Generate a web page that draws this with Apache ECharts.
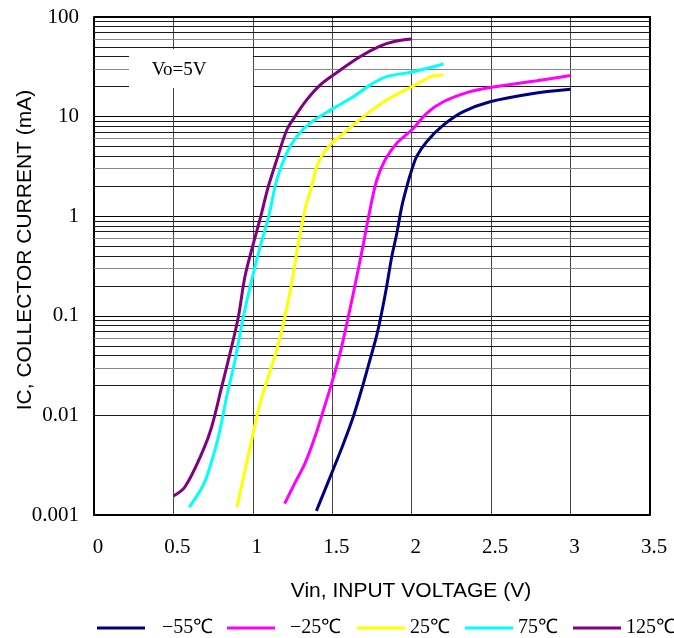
<!DOCTYPE html>
<html>
<head>
<meta charset="utf-8">
<script src="https://cdn.jsdelivr.net/npm/echarts@6/dist/echarts.min.js"></script>
<style>html,body{margin:0;padding:0;background:#fff}#c{width:674px;height:638px}</style>
</head>
<body>
<div id="c"></div>
<script>
// Data (Vin in V, Ic in mA)
var seriesNames = ['−55℃', '−25℃', '25℃', '75℃', '125℃'];
var seriesColors = ['#000080', '#ff00ff', '#ffff00', '#00ffff', '#800080'];

var tm55 = [[1.40,0.0011],[1.507,0.0029],[1.57,0.0052],[1.632,0.0097],[1.696,0.021],[1.737,0.036],[1.78,0.064],[1.811,0.108],[1.842,0.196],[1.874,0.39],[1.906,0.67],[1.937,1.24],[1.969,1.98],[2.0,2.91],[2.031,3.97],[2.094,5.6],[2.199,8.2],[2.325,11.2],[2.493,14.1],[2.745,16.9],[3.0,18.8]];
var tm25 = [[1.20,0.0013],[1.265,0.0021],[1.328,0.0033],[1.391,0.0061],[1.444,0.0113],[1.496,0.021],[1.549,0.042],[1.601,0.098],[1.654,0.247],[1.696,0.53],[1.737,1.15],[1.78,2.31],[1.832,3.66],[1.906,5.4],[2.01,7.6],[2.094,10.8],[2.199,14.1],[2.367,17.8],[2.503,19.7],[2.787,22.9],[3.0,25.8]];
var t25 = [[0.90,0.0012],[0.95,0.0028],[0.993,0.0057],[1.045,0.0132],[1.097,0.0245],[1.15,0.0454],[1.202,0.098],[1.244,0.21],[1.286,0.53],[1.33,1.2],[1.37,1.98],[1.402,3.14],[1.444,4.29],[1.507,5.6],[1.57,6.8],[1.696,10],[1.842,14.7],[2.01,20.3],[2.136,25.6],[2.2,26.2]];
var t75 = [[0.60,0.0012],[0.688,0.002],[0.73,0.00305],[0.783,0.0061],[0.835,0.0154],[0.888,0.036],[0.94,0.098],[0.993,0.229],[1.045,0.49],[1.1,1.0],[1.15,2.3],[1.213,4.3],[1.276,6.3],[1.36,8.6],[1.507,12.1],[1.632,15.8],[1.737,20.7],[1.842,25.2],[2.01,28.2],[2.2,33.7]];
var t125 = [[0.50,0.00155],[0.573,0.00192],[0.688,0.0045],[0.741,0.0077],[0.804,0.0194],[0.856,0.042],[0.909,0.098],[0.95,0.247],[1.003,0.53],[1.05,1.0],[1.097,1.98],[1.15,3.66],[1.213,7.3],[1.265,10],[1.339,14.7],[1.423,20.7],[1.507,26.2],[1.674,39.9],[1.80,51],[1.884,56.5],[2.0,60]];

var xTicks = [0, 0.5, 1, 1.5, 2, 2.5, 3, 3.5];
var yDecades = [0.001, 0.01, 0.1, 1, 10];
var minorMultipliers = [2, 3, 4, 5, 6, 7, 8, 9];

var allData = [tm55, tm25, t25, t75, t125];

// legend layout (one legend per item, to match the original spacing)
var legendLeft = [97, 227, 357, 465, 573];
var legendTextPad = [12, 10, 0, 0, 0];

var minorLines = [];
yDecades.forEach(function (d) {
  minorMultipliers.forEach(function (m) {
    var gray = (m === 3 || m === 6);
    minorLines.push({
      yAxis: +(d * m).toPrecision(3),
      lineStyle: { color: gray ? '#888' : '#1a1a1a', width: 1, type: 'solid' }
    });
  });
});

var series = allData.map(function (d, i) {
  return {
    name: seriesNames[i],
    type: 'line',
    data: d,
    smooth: 0.35,
    showSymbol: false,
    symbol: 'none',
    lineStyle: { color: seriesColors[i], width: 3 },
    itemStyle: { color: seriesColors[i] },
    z: 5
  };
});
series.unshift({
  name: 'grid',
  type: 'line',
  data: [],
  silent: true,
  z: 1,
  markLine: {
    silent: true,
    symbol: ['none', 'none'],
    label: { show: false },
    animation: false,
    data: minorLines
  }
});

var legends = seriesNames.map(function (n, i) {
  return {
    data: [n],
    left: legendLeft[i], top: 618,
    padding: 0,
    itemWidth: 48, itemHeight: 3,
    icon: 'rect',
    selectedMode: false,
    textStyle: { fontFamily: 'Liberation Serif', fontSize: 20, color: '#000', padding: [0, 0, 0, legendTextPad[i]] }
  };
});

var chart = echarts.init(document.getElementById('c'));
chart.setOption({
  animation: false,
  backgroundColor: '#fff',
  grid: { left: 94, right: 24, top: 17, bottom: 123, containLabel: false, outerBoundsMode: 'none' },
  xAxis: {
    type: 'value',
    min: 0, max: 3.5, interval: 0.5,
    name: 'Vin, INPUT VOLTAGE (V)',
    nameLocation: 'middle',
    nameGap: 66,
    nameMoveOverlap: false,
    nameTextStyle: { fontFamily: 'Liberation Sans', fontSize: 21, color: '#000', padding: [0, 0, 0, 78] },
    axisLine: { show: true, lineStyle: { color: '#000', width: 2 } },
    axisTick: { show: false },
    axisLabel: { fontFamily: 'Liberation Serif', fontSize: 21, color: '#000', margin: 22, padding: [0, 0, 0, 8],
      formatter: function (v) { return String(v); } },
    splitLine: { show: true, lineStyle: { color: '#444', width: 1 } }
  },
  yAxis: {
    type: 'log',
    logBase: 10,
    min: 0.001, max: 100,
    name: 'IC, COLLECTOR CURRENT (mA)',
    nameLocation: 'middle',
    nameGap: 58,
    nameRotate: 90,
    nameMoveOverlap: false,
    nameTextStyle: { fontFamily: 'Liberation Sans', fontSize: 21, color: '#000', padding: [0, 0, 0, 32] },
    axisLine: { show: true, lineStyle: { color: '#000', width: 2 } },
    axisTick: { show: false },
    axisLabel: { fontFamily: 'Liberation Serif', fontSize: 21, color: '#000', margin: 15,
      formatter: function (v) { return String(+v.toPrecision(3)); } },
    splitLine: { show: true, lineStyle: { color: '#000', width: 1 } }
  },
  legend: legends,
  graphic: [
    { type: 'rect', z: 50, shape: { x: 129, y: 49, width: 124, height: 39 }, style: { fill: '#fff' } },
    { type: 'text', z: 51, x: 179, y: 70, style: { text: 'Vo=5V', font: '19px "Liberation Serif"', fill: '#000', textAlign: 'center', textVerticalAlign: 'middle' } },
    { type: 'rect', z: 52, shape: { x: 649, y: 17, width: 2, height: 498 }, style: { fill: '#000' } },
    { type: 'rect', z: 52, shape: { x: 94, y: 16, width: 557, height: 2 }, style: { fill: '#000' } }
  ],
  series: series
});
</script>
</body>
</html>
